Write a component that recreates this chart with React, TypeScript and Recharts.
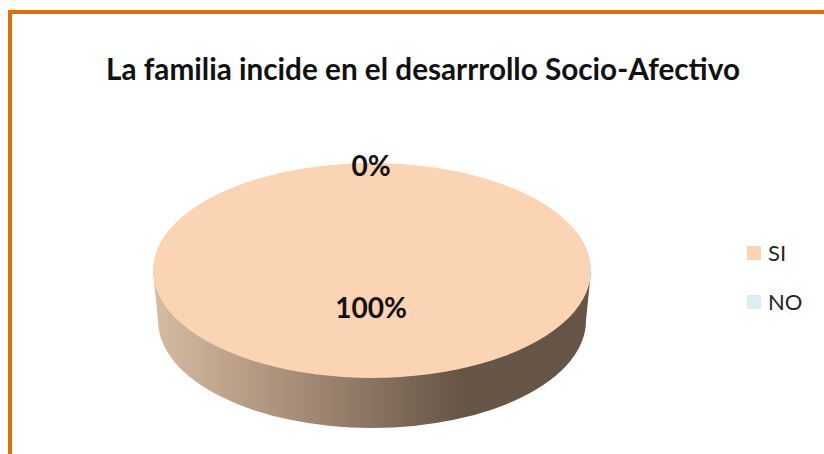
import React from 'react';
import { PieChart, Pie, Legend, Sector } from 'recharts';

const TITLE = 'La familia incide en el desarrrollo Socio-Afectivo';
const categories = ['SI', 'NO'];
const values = [100, 0];
const labels = ['100%', '0%'];
const colors = ['#FBD4B4', '#DAEEF3'];

const data = categories.map((name, i) => ({ name, value: values[i], label: labels[i], fill: colors[i] }));

// the pie is drawn flat and squashed to fake the tilted 3D look
const SQUASH = 0.491;
const DEPTH = 50;
const BOTTOM_INSET = 5;
const FONT = 'Lato, "Open Sans", sans-serif';

const TiltedSlice = (props: any) => {
  const { cx, cy, outerRadius, startAngle, endAngle, fill, value } = props;
  const ry = outerRadius * SQUASH;
  const rb = outerRadius - BOTTOM_INSET;
  const side = `M${cx - outerRadius},${cy} L${cx - rb},${cy + DEPTH} A${rb},${ry} 0 0 0 ${cx + rb},${cy + DEPTH} L${cx + outerRadius},${cy} Z`;
  return (
    <g>
      {value > 0 && <path d={side} fill="url(#sideGradient)" />}
      <g transform={`translate(${cx},${cy}) scale(1,${SQUASH}) translate(${-cx},${-cy})`}>
        <Sector cx={cx} cy={cy} innerRadius={0} outerRadius={outerRadius} startAngle={startAngle} endAngle={endAngle} fill={fill} />
      </g>
    </g>
  );
};

const renderLabel = (props: any) => {
  const { cx, cy, midAngle, outerRadius, payload } = props;
  // the big slice sits its label below the centre, the empty one on the rim
  const r = payload.value > 0 ? outerRadius * 0.34 : outerRadius * 0.98;
  const y = cy - r * Math.sin((midAngle * Math.PI) / 180) * SQUASH;
  return (
    <text x={cx - 1} y={y} textAnchor="middle" dominantBaseline="central" fontFamily={FONT} fontWeight={700} fontSize={28} fill="#111">
      {payload.label}
    </text>
  );
};

const renderLegend = () => (
  <div style={{ fontFamily: FONT, fontSize: 22, color: '#262626' }}>
    {data.map((d) => (
      <div key={d.name} style={{ display: 'flex', alignItems: 'center', height: 49 }}>
        <span style={{ width: 14, height: 14, background: d.fill, marginRight: 7 }} />
        {d.name}
      </div>
    ))}
  </div>
);

export default function App() {
  return (
    <div style={{ position: 'absolute', left: 0, top: 0, width: 824, height: 454, overflow: 'hidden', background: '#fff' }}>
      <div
        style={{
          position: 'absolute',
          left: 8,
          top: 10,
          width: 830,
          height: 460,
          borderLeft: '4px solid #E36C0A',
          borderTop: '4px solid #E36C0A',
        }}
      />
      <div style={{ position: 'absolute', left: 0, top: 0 }}>
        <PieChart width={824} height={454} margin={{ top: 0, right: 0, bottom: 0, left: 0 }}>
          <defs>
            <linearGradient id="sideGradient" x1="0" y1="0" x2="1" y2="0">
              <stop offset="0%" stopColor="#D6BCA3" />
              <stop offset="35%" stopColor="#A38A75" />
              <stop offset="70%" stopColor="#675546" />
              <stop offset="100%" stopColor="#665547" />
            </linearGradient>
          </defs>
          <text x={423} y={68} textAnchor="middle" dominantBaseline="central" fontFamily={FONT} fontWeight={700} fontSize={29.7} fill="#111">
            {TITLE}
          </text>
          <Pie
            data={data}
            dataKey="value"
            nameKey="name"
            cx={372}
            cy={270.5}
            outerRadius={219}
            startAngle={90}
            endAngle={-270}
            stroke="none"
            shape={TiltedSlice}
            label={renderLabel}
            labelLine={false}
            isAnimationActive={false}
          />
          <Legend content={renderLegend} layout="vertical" wrapperStyle={{ position: 'absolute', left: 747, top: 228, width: 70, bottom: 'auto', right: 'auto' }} />
        </PieChart>
      </div>
    </div>
  );
}
